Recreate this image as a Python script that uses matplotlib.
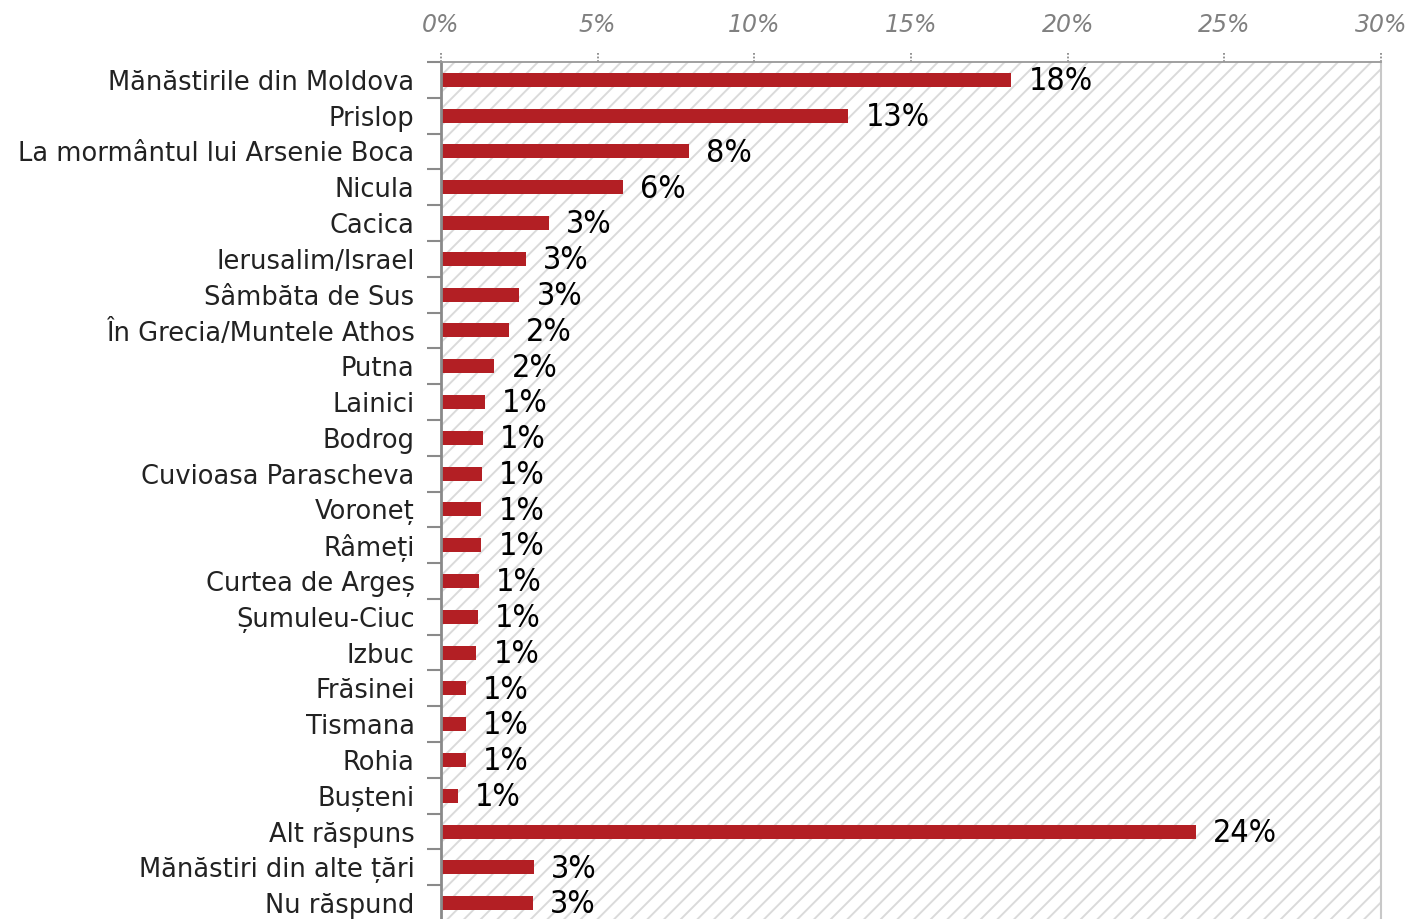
import matplotlib.pyplot as plt
from matplotlib.patches import Rectangle
import numpy as np

categories = ["Mănăstirile din Moldova", "Prislop", "La mormântul lui Arsenie Boca",
              "Nicula", "Cacica", "Ierusalim/Israel", "Sâmbăta de Sus",
              "În Grecia/Muntele Athos", "Putna", "Lainici", "Bodrog",
              "Cuvioasa Parascheva", "Voroneț", "Râmeți", "Curtea de Argeș",
              "Șumuleu-Ciuc", "Izbuc", "Frăsinei", "Tismana", "Rohia", "Bușteni",
              "Alt răspuns", "Mănăstiri din alte țări", "Nu răspund"]
values = [18.2, 13.0, 7.9, 5.8, 3.45, 2.7, 2.5, 2.17, 1.7, 1.4, 1.34, 1.31,
          1.28, 1.28, 1.21, 1.18, 1.12, 0.8, 0.8, 0.8, 0.54, 24.1, 2.97, 2.94]
labels = ["18%", "13%", "8%", "6%", "3%", "3%", "3%", "2%", "2%", "1%", "1%", "1%",
          "1%", "1%", "1%", "1%", "1%", "1%", "1%", "1%", "1%", "24%", "3%", "3%"]
xticks = [0, 5, 10, 15, 20, 25, 30]

plt.rcParams['hatch.linewidth'] = 1.4

fig = plt.figure(figsize=(14.12, 9.19), dpi=100)
ax = fig.add_axes([441/1412, -2/919, 940/1412, 859/919])

# hatched background
bg = Rectangle((0, 0), 1, 1, transform=ax.transAxes, facecolor='white',
               edgecolor='#dadada', hatch='//', lw=0, zorder=0)
ax.add_patch(bg)

y = np.arange(len(categories))
ax.barh(y, values, height=0.39, color='#B31F24', zorder=2)

for yi, v, lab in zip(y, values, labels):
    ax.text(v + 0.55, yi + 0.05, lab, va='center', ha='left', fontsize=23,
            family='DejaVu Sans', fontstretch='condensed', color='black')

ax.set_xlim(0, 30)
ax.set_ylim(len(categories) - 0.5, -0.5)

ax.xaxis.tick_top()
ax.set_xticks(xticks)
ax.set_xticklabels([f"{t}%" for t in xticks], fontsize=17, style='italic',
                   color='#808080')
ax.tick_params(axis='x', length=0, pad=18)
# dotted tick marks above the top line
ax.vlines(xticks, 1.0, 1.011, transform=ax.get_xaxis_transform(), clip_on=False,
          colors='#8a8a8a', linestyles=(0, (1, 1)), lw=1.3)

ax.set_yticks(y)
ax.set_yticklabels(categories, fontsize=18.5, color='#222222')
ax.set_yticks(np.arange(len(categories) + 1) - 0.5, minor=True)
ax.tick_params(axis='y', which='major', length=0, pad=19)
ax.tick_params(axis='y', which='minor', length=10, width=1.5, color='#8a8a8a')

ax.spines['left'].set_color('#8a8a8a')
ax.spines['left'].set_linewidth(2)
ax.spines['right'].set_color('#c8c8c8')
ax.spines['right'].set_linewidth(1.5)
ax.spines['bottom'].set_visible(False)
ax.spines['top'].set_color('#999999')
ax.spines['top'].set_linestyle((0, (1, 1)))
ax.spines['top'].set_linewidth(1.3)

fig.savefig('out.png', dpi=100)
